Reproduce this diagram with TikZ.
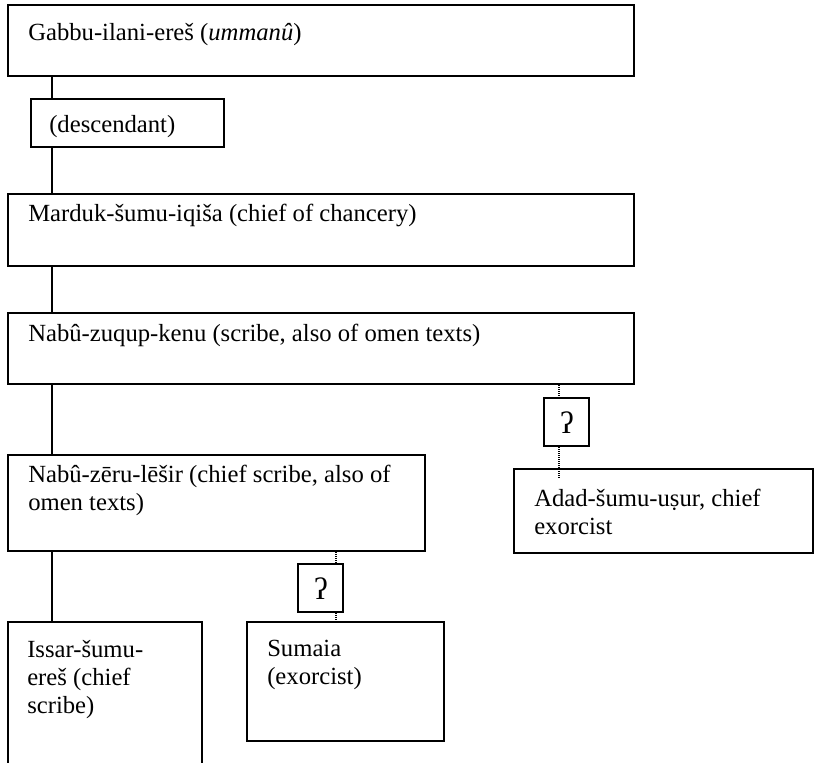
\documentclass[tikz,border=0pt]{standalone}
\usepackage{fontspec}
\setmainfont{Liberation Serif}
\usetikzlibrary{fit}
\begin{document}
\begin{tikzpicture}[x=0.75pt,y=-0.75pt,
  box/.style={draw, line width=1.5pt, inner sep=0pt},
  lbl/.style={inner sep=0pt, anchor=base west, align=left, font=\fontsize{18.5}{21}\selectfont},
  qlbl/.style={inner sep=0pt, font=\fontsize{23}{24}\selectfont},
  solidline/.style={line width=1.2pt},
  dotline/.style={line width=0.8pt, dash pattern=on 0.75pt off 0.75pt}]
\useasboundingbox (0,0) rectangle (814,763);
\clip (0,0) rectangle (814,763);
% boxes
\node[box, fit={(8,5) (634,76)}] (gabbu) {};
\node[box, fit={(31,99) (224,147)}] (desc) {};
\node[box, fit={(8,194) (634,266)}] (marduk) {};
\node[box, fit={(8,313) (634,384)}] (zuqup) {};
\node[box, fit={(8,455) (425,551)}] (zeru) {};
\node[box, fit={(544,398) (589,446)}] (q1) {};
\node[box, fit={(514,469) (813,553)}] (adad) {};
\node[box, fit={(298,564) (343,612)}] (q2) {};
\node[box, fit={(8,622) (202,790)}] (issar) {};
\node[box, fit={(247,622) (444,741)}] (sumaia) {};
% texts (multi-line nodes are placed by the baseline of their last line)
\node[lbl] (tgabbu) at (28,41) {Gabbu-ilani-ereš (\textit{ummanû})};
\node[lbl] (tdesc) at (49,133) {(descendant)};
\node[lbl] (tmarduk) at (28,221) {Marduk-šumu-iqiša (chief of chancery)};
\node[lbl] (tzuqup) at (28,341) {Nabû-zuqup-kenu (scribe, also of omen texts)};
\node[lbl] (tzeru) at (28,510) {Nabû-zēru-lēšir (chief scribe, also of\\omen texts)};
\node[lbl] (tadad) at (534,534) {Adad-šumu-uṣur, chief\\exorcist};
\node[lbl] (tissar) at (27,713) {Issar-šumu-\\ereš (chief\\scribe)};
\node[lbl] (tsumaia) at (267,684) {Sumaia\\(exorcist)};
\node[qlbl] (tq1) at (567,423) {ʔ};
\node[qlbl] (tq2) at (321,589) {ʔ};
% connectors
\coordinate (spine) at (52,0);
\coordinate (q1x) at (559,0);
\coordinate (q2x) at (336,0);
\coordinate (q1end) at (559,478);
\draw[solidline] (spine |- gabbu.south) -- (spine |- desc.north);
\draw[solidline] (spine |- desc.south) -- (spine |- marduk.north);
\draw[solidline] (spine |- marduk.south) -- (spine |- zuqup.north);
\draw[solidline] (spine |- zuqup.south) -- (spine |- zeru.north);
\draw[solidline] (spine |- zeru.south) -- (spine |- issar.north);
\draw[dotline] (q1x |- zuqup.south) -- (q1x |- q1.north);
\draw[dotline] (q1x |- q1.south) -- (q1end);
\draw[dotline] (q2x |- zeru.south) -- (q2x |- q2.north);
\draw[dotline] (q2x |- q2.south) -- (q2x |- sumaia.north);
\end{tikzpicture}
\end{document}
